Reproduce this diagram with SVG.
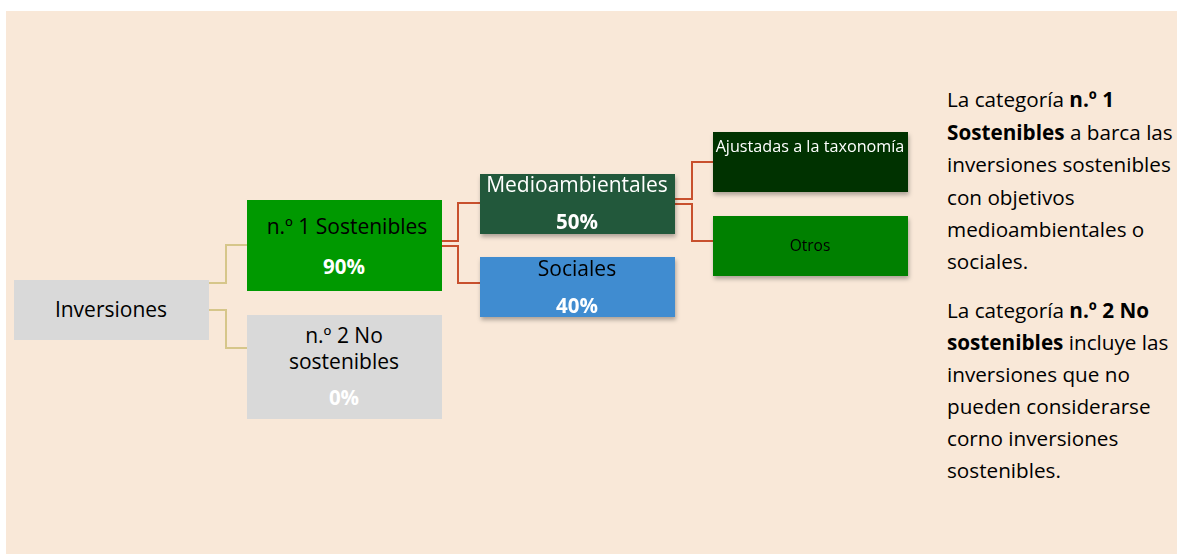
<svg xmlns="http://www.w3.org/2000/svg" width="1177" height="554" viewBox="0 0 1177 554">
<defs>
<filter id="sh" x="-10%" y="-10%" width="120%" height="140%">
<feDropShadow dx="1" dy="3" stdDeviation="2" flood-color="#000" flood-opacity="0.3"/>
</filter>
<style>
text{font-family:"Open Sans","Liberation Sans",sans-serif;text-anchor:middle}
.t{font-size:21px;fill:#000}
.w{fill:#fff}
.b{font-weight:bold}
.p{font-size:20.5px;font-weight:bold;fill:#fff}
.g{fill:none;stroke:#D6C68A;stroke-width:2}
.r{fill:none;stroke:#C8502D;stroke-width:2}
.side{font-size:20.7px;text-anchor:start;fill:#000}
</style>
</defs>
<rect x="0" y="0" width="1177" height="554" fill="#fff"/>
<rect x="6" y="11" width="1171" height="543" fill="#F9E8D8"/>
<g id="connectors">
<path class="g" d="M209 283H226V245H247"/>
<path class="g" d="M209 310H226V348H247"/>
<path class="r" d="M442 241H458V203H480"/>
<path class="r" d="M442 246H458V283H480"/>
<path class="r" d="M675 199H692V162H713"/>
<path class="r" d="M675 204H692V241H713"/>
</g>
<g id="inversiones">
<rect x="14" y="280" width="195" height="60" fill="#D9D9D9"/>
<text class="t" x="111" y="317">Inversiones</text>
</g>
<g id="sostenibles">
<rect x="247" y="200" width="195" height="91" fill="#009900"/>
<text class="t" x="347" y="234">n.º 1 Sostenibles</text>
<text class="p" x="344" y="274">90%</text>
</g>
<g id="no-sostenibles">
<rect x="247" y="315" width="195" height="104" fill="#D9D9D9"/>
<text class="t" x="344" y="343">n.º 2 No</text>
<text class="t" x="344" y="369">sostenibles</text>
<text class="p" x="344" y="405">0%</text>
</g>
<g id="medioambientales" filter="url(#sh)">
<rect x="480" y="174" width="195" height="60" fill="#24583A"/>
<text class="t w" x="577" y="192">Medioambientales</text>
<text class="p" x="577" y="229">50%</text>
</g>
<g id="sociales" filter="url(#sh)">
<rect x="480" y="257" width="195" height="60" fill="#3F8CD0"/>
<text class="t" x="577" y="276">Sociales</text>
<text class="p" x="577" y="313">40%</text>
</g>
<g id="ajustadas" filter="url(#sh)">
<rect x="713" y="132" width="195" height="60" fill="#003300"/>
<text x="810" y="152" font-size="16.2" fill="#fff">Ajustadas a la taxonomía</text>
</g>
<g id="otros" filter="url(#sh)">
<rect x="713" y="216" width="195" height="60" fill="#008000"/>
<text x="810" y="251" font-size="15.5" fill="#000">Otros</text>
</g>
<g id="nota">
<text class="side" x="947" y="107">La categoría <tspan class="b">n.º 1</tspan></text>
<text class="side" x="947" y="140"><tspan class="b">Sostenibles</tspan> a barca las</text>
<text class="side" x="947" y="172">inversiones sostenibles</text>
<text class="side" x="947" y="205">con objetivos</text>
<text class="side" x="947" y="237">medioambientales o</text>
<text class="side" x="947" y="269">sociales.</text>
<text class="side" x="947" y="318">La categoría <tspan class="b">n.º 2 No</tspan></text>
<text class="side" x="947" y="350"><tspan class="b">sostenibles</tspan> incluye las</text>
<text class="side" x="947" y="382">inversiones que no</text>
<text class="side" x="947" y="414">pueden considerarse</text>
<text class="side" x="947" y="446">corno inversiones</text>
<text class="side" x="947" y="478">sostenibles.</text>
</g>
</svg>
